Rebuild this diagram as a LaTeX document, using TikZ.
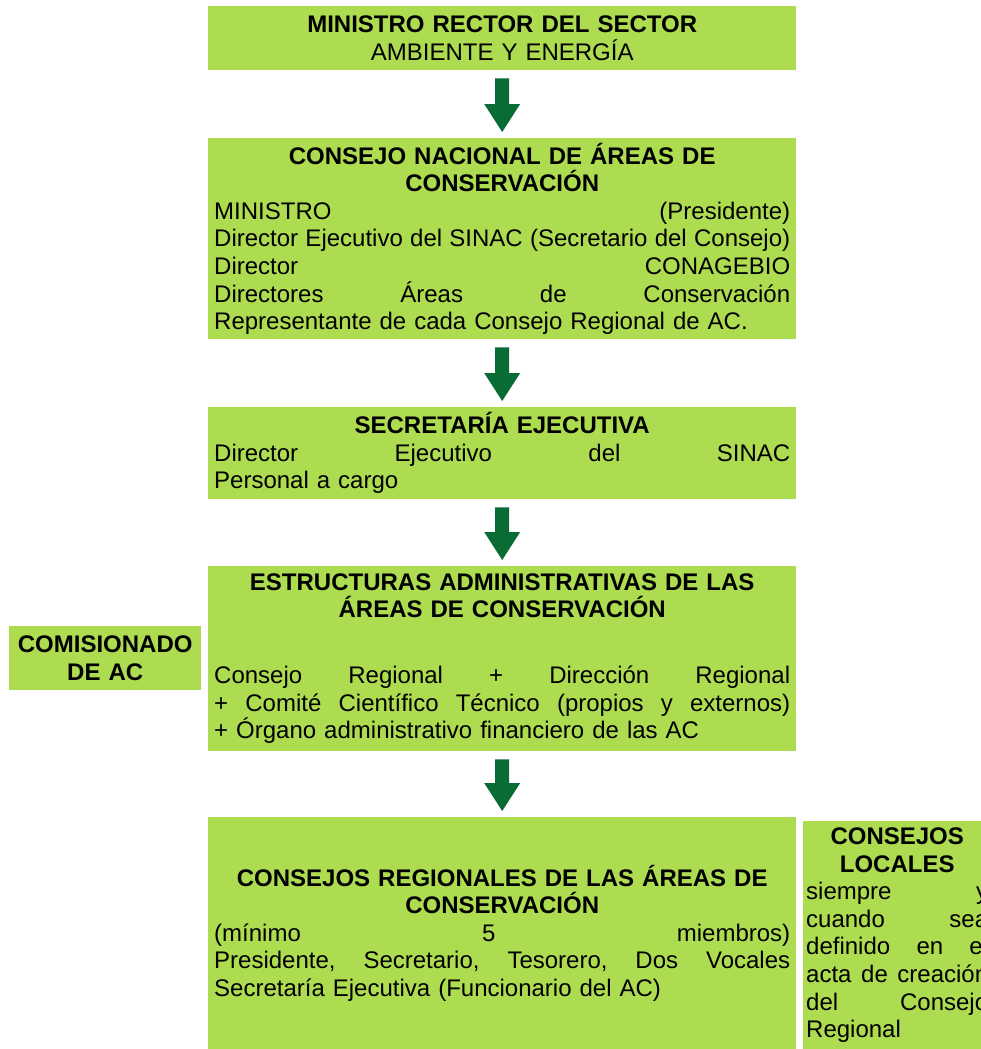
\documentclass[tikz,border=0pt]{standalone}
\usepackage{fontspec}
\setmainfont{Liberation Sans}
\usetikzlibrary{calc}
\definecolor{boxgreen}{RGB}{174,220,80}
\definecolor{arrowgreen}{RGB}{8,108,52}
\newcommand{\myjust}[2][576pt]{\leavevmode\hbox to #1{#2}}
\newcommand{\myleft}[2][576pt]{\leavevmode\hbox to #1{#2\hfill}}
\newcommand{\gp}{\hfill\hspace{0.28em}}
\begin{document}
\begin{tikzpicture}[x=1pt,y=-1pt,
  box/.style={fill=boxgreen, draw=none, inner xsep=6pt, inner ysep=2pt,
    text width=576pt, align=center, anchor=north west,
    font=\fontsize{24}{27.6}\selectfont},
  bigarrow/.style={fill=arrowgreen, draw=none, to path={
    let \p1=(\tikztostart.south), \p2=(\tikztotarget.north) in
    (\x1-7pt,\y1-8pt) -- (\x1+7pt,\y1-8pt) -- (\x1+7pt,\y2+34pt) --
    (\x1+18pt,\y2+34pt) -- (\x1,\y2+6pt) -- (\x1-18pt,\y2+34pt) --
    (\x1-7pt,\y2+34pt) -- cycle}}]
\useasboundingbox (0,0) rectangle (981,1049);
\clip (0,0) rectangle (981,1049);

\node[box, minimum height=64pt] (b1) at (208,6)
  {\textbf{MINISTRO RECTOR DEL SECTOR}\\AMBIENTE Y ENERGÍA};

\node[box, minimum height=201pt] (b2) at (208,138)
  {\textbf{CONSEJO NACIONAL DE ÁREAS DE}\\\textbf{CONSERVACIÓN}\\
   \myjust{MINISTRO\gp(Presidente)}\\
   \myjust{Director\gp Ejecutivo\gp del\gp SINAC\gp (Secretario\gp del\gp Consejo)}\\
   \myjust{Director\gp CONAGEBIO}\\
   \myjust{Directores\gp Áreas\gp de\gp Conservación}\\
   \myleft{Representante de cada Consejo Regional de AC.}};

\node[box, minimum height=92pt] (b3) at (208,407)
  {\textbf{SECRETARÍA EJECUTIVA}\\
   \myjust{Director\gp Ejecutivo\gp del\gp SINAC}\\
   \myleft{Personal a cargo}};

\node[box, minimum height=185pt] (b4) at (208,566)
  {\textbf{ESTRUCTURAS ADMINISTRATIVAS DE LAS}\\\textbf{ÁREAS DE CONSERVACIÓN}\\[38.4pt]
   \myjust{Consejo\gp Regional\gp +\gp Dirección\gp Regional}\\
   \myjust{+\gp Comité\gp Científico\gp Técnico\gp (propios\gp y\gp externos)}\\
   \myleft{+ Órgano administrativo financiero de las AC}};

\node[box, minimum height=232pt] (b5) at (208,817)
  {\textbf{CONSEJOS REGIONALES DE LAS ÁREAS DE}\\\textbf{CONSERVACIÓN}\\
   \myjust{(mínimo\gp 5\gp miembros)}\\
   \myjust{Presidente,\gp Secretario,\gp Tesorero,\gp Dos\gp Vocales}\\
   \myleft{Secretaría Ejecutiva (Funcionario del AC)}};

\node[box, text width=180pt, minimum height=64pt] (com) at (9,626)
  {\textbf{COMISIONADO}\\\textbf{DE AC}};

\node[box, text width=182pt, inner xsep=3pt, minimum height=228pt] (loc) at (803,821)
  {\textbf{CONSEJOS}\\\textbf{LOCALES}\\
   \myjust[182pt]{siempre\gp y}\\
   \myjust[182pt]{cuando\gp sea}\\
   \myjust[182pt]{definido\gp en\gp el}\\
   \myjust[182pt]{acta\gp de\gp creación}\\
   \myjust[182pt]{del\gp Consejo}\\
   \myleft[182pt]{Regional}};

\path[bigarrow] (b1) to (b2);
\path[bigarrow] (b2) to (b3);
\path[bigarrow] (b3) to (b4);
\path[bigarrow] (b4) to (b5);
\end{tikzpicture}
\end{document}
